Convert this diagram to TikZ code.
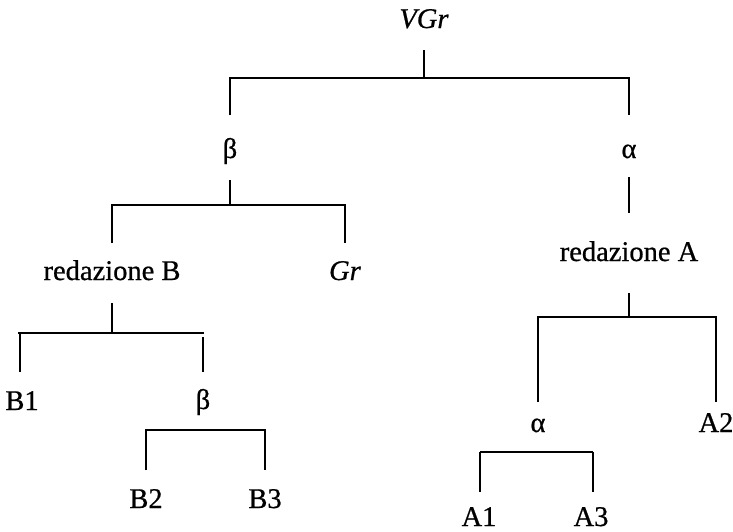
\documentclass[tikz,border=0pt]{standalone}
\usepackage{fontspec}
\setmainfont{Liberation Serif}[FakeBold=0.7]
\begin{document}
\begin{tikzpicture}[x=1pt,y=-1pt,
  lbl/.style={inner sep=0pt,anchor=base,font=\fontsize{28.5}{34}\selectfont},
  br/.style={line width=2.6pt,line cap=butt}]
\useasboundingbox (0,0) rectangle (733,531);
% nodes
\node[lbl] (VGr) at (424,28) {\textit{VGr}};
\node[lbl] (betaA) at (230,158) {β};
\node[lbl] (alphaA) at (629,158) {α};
\node[lbl] (redB) at (112,280) {redazione B};
\node[lbl] (Gr) at (345,280) {\textit{Gr}};
\node[lbl] (redA) at (629,261) {redazione A};
\node[lbl] (B1) at (22,410) {B1};
\node[lbl] (betaB) at (203,409) {β};
\node[lbl] (B2) at (146,508) {B2};
\node[lbl] (B3) at (265,508) {B3};
\node[lbl] (alphaB) at (538,432) {α};
\node[lbl] (A2) at (716,432) {A2};
\node[lbl] (A1) at (479,526) {A1};
\node[lbl] (A3) at (591,526) {A3};
% VGr bracket
\draw[br] (VGr |- 0,50) -- (VGr |- 0,78);
\draw[br] (betaA |- 0,115) -- (betaA |- 0,78) -- (alphaA |- 0,78) -- (alphaA |- 0,115);
% beta bracket
\draw[br] (betaA |- 0,180) -- (betaA |- 0,205);
\draw[br] (redB |- 0,243) -- (redB |- 0,205) -- (Gr |- 0,205) -- (Gr |- 0,243);
% alpha stem
\draw[br] (alphaA |- 0,177) -- (alphaA |- 0,213);
% redazione B bracket
\draw[br] (redB |- 0,303) -- (redB |- 0,333);
\draw[br] (18,333) -- (204,333);
\draw[br] (20,333) -- (20,372);
\draw[br] (betaB |- 0,337) -- (betaB |- 0,372);
% beta lower bracket
\draw[br] (B2 |- 0,470) -- (B2 |- 0,430) -- (B3 |- 0,430) -- (B3 |- 0,470);
% redazione A bracket
\draw[br] (redA |- 0,293) -- (redA |- 0,317);
\draw[br] (alphaB |- 0,402) -- (alphaB |- 0,317) -- (A2 |- 0,317) -- (A2 |- 0,402);
% alpha lower bracket
\draw[br] (480,452) -- (593,452);
\draw[br] (480,452) -- (480,492);
\draw[br] (593,452) -- (593,492);
\end{tikzpicture}
\end{document}
